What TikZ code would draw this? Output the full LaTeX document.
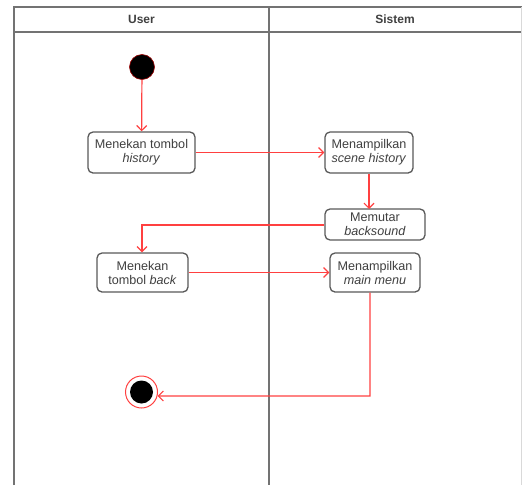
\documentclass[tikz,border=0pt]{standalone}
\usepackage{fontspec}
\setmainfont{Liberation Sans}
\usetikzlibrary{arrows.meta,calc}
\begin{document}
\begin{tikzpicture}[x=1pt,y=-1pt,
  lane/.style={draw=black!55,line width=1.4pt},
  act/.style={draw=black!65,line width=1.3pt,rounded corners=5pt,fill=white,
    align=center,inner sep=1pt,font=\fontsize{12.6}{14}\selectfont,text=black!75},
  flow/.style={draw=red!75!white,line width=1.2pt,-{Straight Barb[length=5pt,width=10pt]}},
  hdr/.style={font=\bfseries\fontsize{12}{13}\selectfont,text=black!75}]
\useasboundingbox (0,0) rectangle (522,485);
% swimlanes
\draw[lane] (14,485) -- (14,7) -- (522,7);
\draw[lane] (14,32) -- (522,32);
\draw[lane] (269,7) -- (269,485);
\draw[draw=black!15,line width=0.8pt] (521,7) -- (521,485);
\node[hdr] (huser) at (141.5,19.5) {User};
\node[hdr] (hsis) at (395,19.5) {Sistem};
% nodes
\node[circle,fill=black,draw=red!60!black,line width=0.6pt,minimum size=25pt,inner sep=0pt] (start) at (142,67) {};
\node[act,minimum width=107pt,minimum height=41pt] (a1) at (141.5,152.5) {Menekan tombol\\\textit{history}};
\node[act,minimum width=88pt,minimum height=41pt] (a2) at (369,152.5) {Menampilkan\\\textit{scene history}};
\node[act,minimum width=100pt,minimum height=31pt] (a3) at (375,224.5) {Memutar\\\textit{backsound}};
\node[act,minimum width=91pt,minimum height=39pt] (a4) at (142.5,272.5) {Menekan\\tombol \textit{back}};
\node[act,minimum width=90pt,minimum height=39pt] (a5) at (375,272.5) {Menampilkan\\\textit{main menu}};
\node[circle,draw=red!75!white,line width=1pt,fill=white,minimum size=32pt,inner sep=0pt] (end) at (141.5,392) {};
\node[circle,fill=black,minimum size=23pt,inner sep=0pt] (endin) at (end) {};
% flows
\draw[flow] (start) -- (a1);
\draw[flow] (a1) -- (a2);
\draw[flow] (a2.south -| 369,0) -- (369,209);
\coordinate (k1) at (142,225);
\draw[flow] (a3.west |- k1) -- (k1) -- (a4.north -| k1);
\draw[flow] (a4) -- (a5);
\coordinate (k2) at (370,396);
\draw[flow] (a5.south -| k2) -- (k2) -- (end.-14);
\end{tikzpicture}
\end{document}
